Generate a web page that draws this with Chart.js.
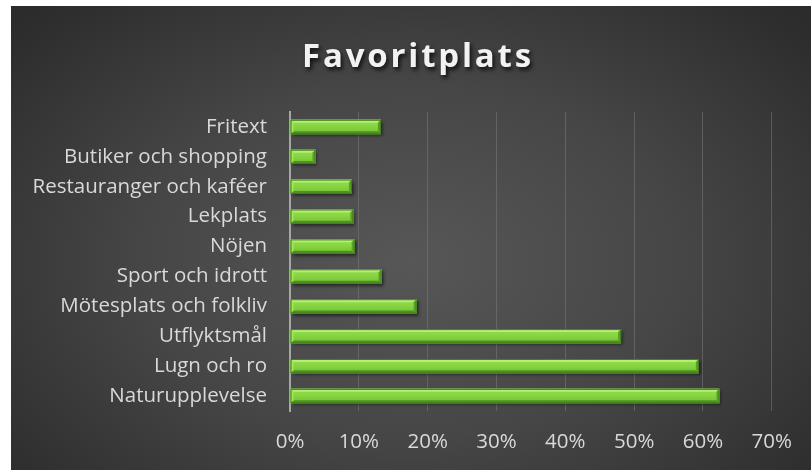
<!DOCTYPE html>
<html>
<head>
<meta charset="utf-8">
<script src="https://cdn.jsdelivr.net/npm/chart.js@4.4.1/dist/chart.umd.min.js"></script>
<style>
  html, body { margin: 0; padding: 0; background: #ffffff; }
  #wrap {
    position: absolute; left: 11px; top: 6px; width: 800px; height: 464px;
    background: radial-gradient(ellipse 75% 85% at 50% 55%, #575757 0%, #464646 45%, #2e2e2e 85%, #282828 100%);
  }
</style>
</head>
<body>
<div id="wrap"><canvas id="c" width="800" height="464"></canvas></div>
<script>
const categories = ["Fritext", "Butiker och shopping", "Restauranger och kaféer", "Lekplats", "Nöjen",
  "Sport och idrott", "Mötesplats och folkliv", "Utflyktsmål", "Lugn och ro", "Naturupplevelse"];
const values = [13.2, 3.7, 9.0, 9.2, 9.4, 13.3, 18.4, 48.1, 59.4, 62.4];
const xTicks = [0, 10, 20, 30, 40, 50, 60, 70];
const titleText = "Favoritplats";

const bevelPlugin = {
  id: 'bevel',
  beforeDatasetDraw(chart) {
    const ctx = chart.ctx;
    ctx.save();
    ctx.shadowColor = 'rgba(0,0,0,0.55)';
    ctx.shadowOffsetX = 2;
    ctx.shadowOffsetY = 2;
    ctx.shadowBlur = 3;
  },
  afterDatasetDraw(chart) {
    const ctx = chart.ctx;
    ctx.restore();
    const meta = chart.getDatasetMeta(0);
    meta.data.forEach(el => {
      const p = el.getProps(['x', 'y', 'base', 'height'], true);
      const x0 = p.base, x1 = p.x, yt = p.y - p.height / 2, yb = p.y + p.height / 2;
      const b = 3;
      if (x1 - x0 < 2 * b) return;
      ctx.save();
      const g = ctx.createLinearGradient(0, yt, 0, yb);
      g.addColorStop(0, '#93dd4e');
      g.addColorStop(0.45, '#88d543');
      g.addColorStop(1, '#72be32');
      ctx.fillStyle = g;
      ctx.fillRect(x0, yt, x1 - x0, yb - yt);
      ctx.fillStyle = '#b3ee76';
      ctx.beginPath();
      ctx.moveTo(x0, yt); ctx.lineTo(x1, yt); ctx.lineTo(x1 - b, yt + b); ctx.lineTo(x0 + b, yt + b); ctx.closePath();
      ctx.fill();
      ctx.fillStyle = '#4f9322';
      ctx.beginPath();
      ctx.moveTo(x0, yb); ctx.lineTo(x1, yb); ctx.lineTo(x1 - b, yb - b); ctx.lineTo(x0 + b, yb - b); ctx.closePath();
      ctx.fill();
      ctx.fillStyle = '#5aa02a';
      ctx.beginPath();
      ctx.moveTo(x1, yt); ctx.lineTo(x1, yb); ctx.lineTo(x1 - b, yb - b); ctx.lineTo(x1 - b, yt + b); ctx.closePath();
      ctx.fill();
      ctx.fillStyle = '#a2e45f';
      ctx.beginPath();
      ctx.moveTo(x0, yt); ctx.lineTo(x0, yb); ctx.lineTo(x0 + b, yb - b); ctx.lineTo(x0 + b, yt + b); ctx.closePath();
      ctx.fill();
      ctx.strokeStyle = '#3f7d18';
      ctx.lineWidth = 1;
      ctx.strokeRect(x0 + 0.5, yt + 0.5, x1 - x0 - 1, yb - yt - 1);
      ctx.restore();
    });
  }
};

const titleShadowPlugin = {
  id: 'tshadow',
  beforeDraw(chart) {
    const ctx = chart.ctx;
    const tb = chart.titleBlock;
    if (!tb) return;
    ctx.save();
    ctx.translate(26, 0);
    ctx.letterSpacing = '2.8px';
    ctx.shadowColor = 'rgba(0,0,0,0.75)';
    ctx.shadowOffsetX = 2;
    ctx.shadowOffsetY = 3;
    ctx.shadowBlur = 4;
    const old = tb.options.color;
    tb.options.color = '#f2f2f2';
    tb.draw();
    tb.options.color = old;
    ctx.restore();
  }
};

new Chart(document.getElementById('c'), {
  type: 'bar',
  data: {
    labels: categories,
    datasets: [{
      data: values,
      backgroundColor: '#7cc93a',
      borderWidth: 0,
      barPercentage: 0.48,
      categoryPercentage: 1.0
    }]
  },
  plugins: [bevelPlugin, titleShadowPlugin],
  options: {
    indexAxis: 'y',
    responsive: false,
    animation: false,
    devicePixelRatio: 1,
    layout: { padding: { left: 0, right: 38, top: 0, bottom: 0 } },
    plugins: {
      legend: { display: false },
      tooltip: { enabled: false },
      title: {
        display: true,
        text: titleText,
        color: 'rgba(0,0,0,0)',
        font: { family: 'Open Sans', size: 33, weight: 'bold', lineHeight: 1.2 },
        padding: { top: 32, bottom: 34.4 }
      }
    },
    scales: {
      x: {
        min: 0, max: 70,
        afterBuildTicks(axis) { axis.ticks = xTicks.map(v => ({ value: v })); },
        afterFit(axis) { axis.height = 59; },
        grid: { color: 'rgba(125,125,125,0.5)', lineWidth: 1, drawTicks: false },
        border: { display: false },
        ticks: {
          color: '#d9d9d9',
          font: { family: 'Open Sans', size: 20.5 },
          padding: 19,
          callback: v => v + '%'
        }
      },
      y: {
        afterFit(axis) { axis.width = 279; },
        grid: { display: false, drawTicks: false },
        border: { display: true, color: '#a6a6a6', width: 2 },
        ticks: {
          color: '#d9d9d9',
          font: { family: 'Open Sans', size: 20.5 },
          padding: 23
        }
      }
    }
  }
});
</script>
</body>
</html>
